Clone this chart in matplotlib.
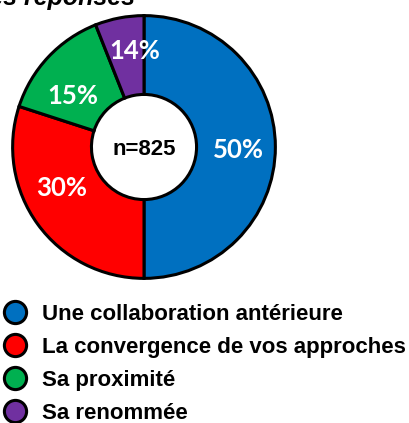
import matplotlib.pyplot as plt
from matplotlib.lines import Line2D

# wedge sizes as drawn, and the labels printed on them
categories = ["Une collaboration antérieure", "La convergence de vos approches",
              "Sa proximité", "Sa renommée"]
values = [50, 30, 14, 6]
pct_labels = ["50%", "30%", "15%", "14%"]
n_total = 825
colors = ["#0070C0", "#FF0000", "#00B050", "#7030A0"]

fig = plt.figure(figsize=(4.09, 4.23), dpi=100)

# title (cut off at the top-left in the source)
fig.text(135/409, 1-5/423, "Répartition des réponses", ha="right", va="baseline",
         fontsize=18, fontweight="bold", fontstyle="italic", family="Liberation Sans")

ax = fig.add_axes([10/409, 142/423, 268/409, 268/423])
wedges, _ = ax.pie(values, colors=colors, startangle=90, counterclock=False,
                   wedgeprops=dict(width=0.6, edgecolor="black", linewidth=2.2))
ax.set_xlim(-1.02, 1.02)
ax.set_ylim(-1.02, 1.02)
ax.set_aspect("equal")

label_pos = [(0.72, -0.02), (-0.63, -0.31), (-0.54, 0.39), (-0.07, 0.73)]
for (x, y), t in zip(label_pos, pct_labels):
    ax.text(x, y, t, ha="center", va="center", color="white", fontsize=18.5,
            fontweight="bold", family="Lato")

ax.text(0, -0.02, "n=%d" % n_total, ha="center", va="center", fontsize=16,
        fontweight="bold", family="Liberation Sans")

handles = [Line2D([], [], marker="o", linestyle="", markersize=16,
                  markerfacecolor=c, markeredgecolor="black", markeredgewidth=2.2)
           for c in colors]
leg = fig.legend(handles, categories, loc="upper left",
                 bbox_to_anchor=(-1.5/409, 1-304/423), frameon=False,
                 prop=dict(family="Liberation Sans", weight="bold", size=16),
                 handletextpad=0.47, labelspacing=0.54, handlelength=1.5,
                 borderaxespad=0, borderpad=0)

fig.savefig("out.png", dpi=100)
